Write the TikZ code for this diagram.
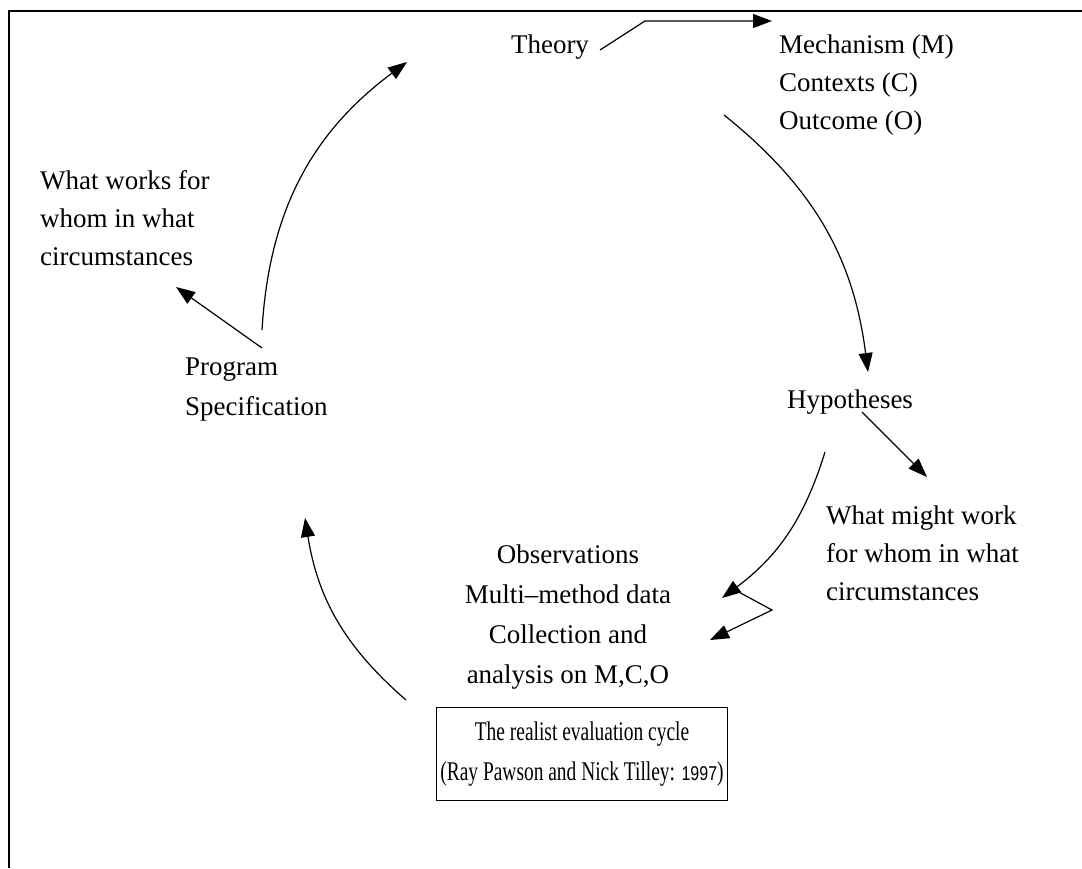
\documentclass[tikz,border=0pt]{standalone}
\usepackage{fontspec}
\setmainfont{Liberation Serif}
\newfontfamily\capfont[FakeStretch=0.72]{Liberation Serif}
\newfontfamily\yearfont[FakeStretch=0.8]{Liberation Sans}
\usetikzlibrary{arrows.meta}

\begin{document}
\begin{tikzpicture}[x=1pt,y=-1pt,
  lbl/.style={inner sep=0pt, font=\fontsize{27}{38}\selectfont},
  wide/.style={inner sep=0pt, font=\fontsize{27}{40}\selectfont},
  link/.style={line width=1.2pt, -{Triangle[length=19pt,width=14pt]}},
  frame/.style={line width=1.7pt}]
\useasboundingbox (0,0) rectangle (1082,868);

% open frame: top and left rules only
\draw[frame] (9,868) -- (9,11) -- (1082,11);

% labels around the cycle
\node[lbl] (theory) at (550,47) {Theory};
\node[lbl, align=left, anchor=west] (mco) at (779,85)
  {Mechanism (M)\\Contexts (C)\\Outcome (O)};
\node[lbl] (hyp) at (850,402) {Hypotheses};
\node[lbl, align=left, anchor=west] (might) at (826,553)
  {What might work\\for whom in what\\circumstances};
\node[wide, align=center] (obs) at (568,617)
  {Observations\\Multi–method data\\Collection and\\analysis on M,C,O};
\node[wide, align=left, anchor=west] (prog) at (185,390)
  {Program\\Specification};
\node[lbl, align=left, anchor=west] (works) at (40,218)
  {What works for\\whom in what\\circumstances};

% caption box
\node[draw, line width=1.2pt, minimum width=291pt, minimum height=93pt,
      inner xsep=3pt, inner ysep=0pt, align=center,
      font=\capfont\fontsize{27}{40}\selectfont] (caption) at (582,754)
  {The realist evaluation cycle\\(Ray Pawson and Nick Tilley: {\yearfont\fontsize{20}{40}\selectfont 1997})};

% end points of the connectors
\coordinate (t0) at (600,50);
\coordinate (t1) at (645,21);
\coordinate (t2) at (772,21);
\coordinate (r0) at (724,115);
\coordinate (r1) at (868,372);
\coordinate (h0) at (862,412);
\coordinate (h1) at (927,477);
\coordinate (d0) at (825,452);
\coordinate (d1) at (722,598);
\coordinate (z0) at (735,590);
\coordinate (z1) at (772,610);
\coordinate (z2) at (710,640);
\coordinate (l0) at (406,700);
\coordinate (l1) at (305,518);
\coordinate (p0) at (262,348);
\coordinate (p1) at (176,287);
\coordinate (u0) at (262,330);
\coordinate (u1) at (407,62);

% theory to its elements
\draw[link] (t0) -- (t1) -- (t2);
% the cycle
\draw[link] (r0) to[bend left=22] (r1);
\draw[link] (d0) to[bend left=18] (d1);
\draw[link] (z0) -- (z1) -- (z2);
\draw[link] (l0) to[bend left=20] (l1);
\draw[link] (u0) to[bend left=25] (u1);
% side outputs
\draw[link] (h0) -- (h1);
\draw[link] (p0) -- (p1);
\end{tikzpicture}
\end{document}
